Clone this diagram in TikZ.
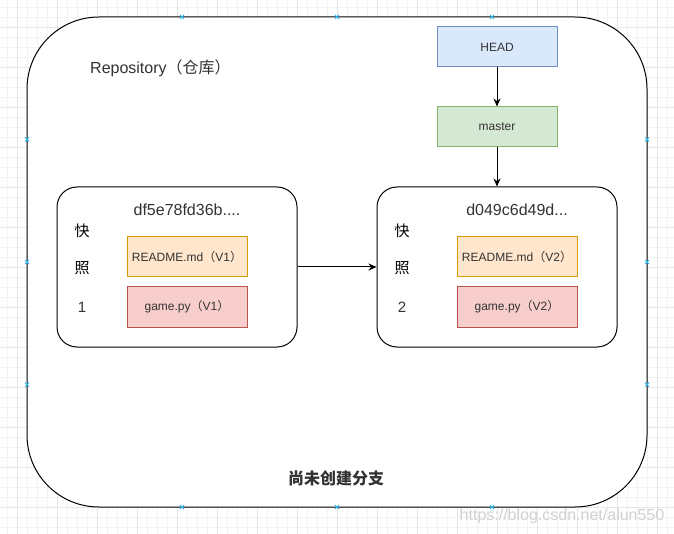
\documentclass[tikz,border=0pt]{standalone}
\usepackage{fontspec}
\setmainfont{Liberation Sans}
\newfontfamily\cjk{Noto Sans CJK SC}
\usetikzlibrary{arrows.meta}
\definecolor{txt}{HTML}{333333}
\definecolor{headfill}{HTML}{DAE8FC}
\definecolor{headdraw}{HTML}{6C8EBF}
\definecolor{masterfill}{HTML}{D5E8D4}
\definecolor{masterdraw}{HTML}{82B366}
\definecolor{readmefill}{HTML}{FFE6CC}
\definecolor{readmedraw}{HTML}{D79B00}
\definecolor{gamefill}{HTML}{F8CECC}
\definecolor{gamedraw}{HTML}{B85450}
\definecolor{gridminor}{HTML}{F3F3F3}
\definecolor{gridmajor}{HTML}{E6E6E6}
\definecolor{handlecol}{HTML}{29B6F2}
\tikzset{
  minorline/.style={draw=gridminor, line width=0.8pt},
  majorline/.style={draw=gridmajor, line width=0.8pt},
  repobox/.style={draw=black, fill=white, line width=1pt, rounded corners=72pt,
    minimum width=620pt, minimum height=490pt, inner sep=0pt},
  snapbox/.style={draw=black, fill=white, line width=1pt, rounded corners=20pt,
    minimum width=240pt, minimum height=160pt, inner sep=0pt},
  refbox/.style={line width=1pt, minimum width=120pt, minimum height=40pt,
    inner sep=0pt, font=\fontsize{12pt}{14pt}\selectfont, text=txt},
  headbox/.style={refbox, fill=headfill, draw=headdraw},
  masterbox/.style={refbox, fill=masterfill, draw=masterdraw},
  readmebox/.style={refbox, fill=readmefill, draw=readmedraw},
  gamebox/.style={refbox, fill=gamefill, draw=gamedraw},
  title/.style={inner sep=0pt, font=\fontsize{16pt}{18pt}\selectfont, text=txt},
  sidelabel/.style={inner sep=0pt, font=\fontsize{15pt}{17pt}\selectfont, text=black},
  arr/.style={draw=black, line width=1pt, -{Stealth[length=8pt,width=7pt]}},
  handle/.style={draw=handlecol, line width=0.8pt},
}
\begin{document}
\begin{tikzpicture}[x=1pt,y=-1pt]
\useasboundingbox (0,0) rectangle (674,534);
\fill[white] (0,0) rectangle (674,534);
% grid
\foreach \x in {7,17,...,667} \draw[minorline] (\x,0) -- (\x,534);
\foreach \y in {7,17,...,527} \draw[minorline] (0,\y) -- (674,\y);
\foreach \x in {17,57,...,657} \draw[majorline] (\x,0) -- (\x,534);
\foreach \y in {27,67,...,507} \draw[majorline] (0,\y) -- (674,\y);
% watermark
\node[inner sep=0pt, font=\fontsize{16pt}{18pt}\selectfont, text=black!18] (wm) at (562,516) {https://blog.csdn.net/alun550};
% repository
\node[repobox] (repo) at (337,262) {};
\node[title, anchor=west] (repolabel) at (90,68) {Repository{\cjk （仓库）}};
\node[title, font=\cjk\bfseries\fontsize{16pt}{18pt}\selectfont] (nobranch) at (336,478) {尚未创建分支};
% refs
\node[headbox] (head) at (497,47) {HEAD};
\node[masterbox] (master) at (497,127) {master};
% snapshots
\node[snapbox] (snap1) at (177,267) {};
\node[snapbox] (snap2) at (497,267) {};
\node[title] (t1) at (187,210) {df5e78fd36b....};
\node[title] (t2) at (517,210) {d049c6d49d...};
\node[sidelabel, font=\cjk\fontsize{15pt}{17pt}\selectfont] (k1) at (82,231) {快};
\node[sidelabel, font=\cjk\fontsize{15pt}{17pt}\selectfont] (z1) at (82,268) {照};
\node[sidelabel, font=\fontsize{15pt}{17pt}\selectfont, text=txt] (n1) at (82,307) {1};
\node[sidelabel, font=\cjk\fontsize{15pt}{17pt}\selectfont] (k2) at (402,231) {快};
\node[sidelabel, font=\cjk\fontsize{15pt}{17pt}\selectfont] (z2) at (402,268) {照};
\node[sidelabel, font=\fontsize{15pt}{17pt}\selectfont, text=txt] (n2) at (402,307) {2};
\node[readmebox] (readme1) at (187,257) {README.md{\cjk （}V1{\cjk ）}};
\node[gamebox] (game1) at (187,307) {game.py{\cjk （}V1{\cjk ）}};
\node[readmebox] (readme2) at (517,257) {README.md{\cjk （}V2{\cjk ）}};
\node[gamebox] (game2) at (517,307) {game.py{\cjk （}V2{\cjk ）}};
% connectors
\draw[arr] (head.south) -- (master.north);
\draw[arr] (master.south) -- (snap2.north);
\draw[arr] (snap1.east) -- (snap2.west);
% selection handles
\foreach \a/\b in {182/17,337/17,492/17,182/507,337/507,492/507,27/139.5,27/262,27/384.5,647/139.5,647/262,647/384.5}
  \draw[handle] ({\a-2},{\b-2}) -- ({\a+2},{\b+2}) ({\a-2},{\b+2}) -- ({\a+2},{\b-2});
\end{tikzpicture}
\end{document}
